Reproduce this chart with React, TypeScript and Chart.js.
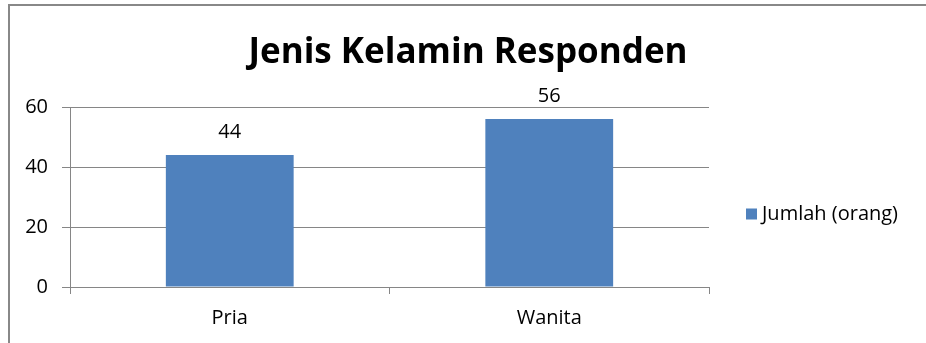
import React, { useEffect, useRef } from 'react';
import { Chart, registerables } from 'chart.js';

Chart.register(...registerables);

const categories = ['Pria', 'Wanita'];
const jumlah = [44, 56];
const seriesLabel = 'Jumlah (orang)';
const titleText = 'Jenis Kelamin Responden';
const yTicks = [0, 20, 40, 60];

const FONT = '"Open Sans", Lato, sans-serif';
const BLUE = '#4F81BD';
const GRID = '#868686';
const TEXT = '#000000';
const LABEL_SIZE = 20;

const dataLabels = {
  id: 'dataLabels',
  afterDatasetsDraw(chart: any) {
    const ctx = chart.ctx;
    ctx.save();
    ctx.font = `${LABEL_SIZE}px ${FONT}`;
    ctx.fillStyle = TEXT;
    ctx.textAlign = 'center';
    ctx.textBaseline = 'middle';
    chart.data.datasets.forEach((ds: any, di: number) => {
      const meta = chart.getDatasetMeta(di);
      meta.data.forEach((bar: any, i: number) => {
        ctx.fillText(String(ds.data[i]), bar.x, bar.y - 23);
      });
    });
    ctx.restore();
  },
};

const sideLegend = {
  id: 'sideLegend',
  afterDraw(chart: any) {
    const ctx = chart.ctx;
    const area = chart.chartArea;
    const ds = chart.data.datasets[0];
    const x = area.right + 37;
    const cy = (area.top + area.bottom) / 2 + 17;
    ctx.save();
    ctx.fillStyle = ds.backgroundColor;
    ctx.fillRect(x, cy - 5.5, 11, 11);
    ctx.font = `${LABEL_SIZE}px ${FONT}`;
    ctx.fillStyle = TEXT;
    ctx.textAlign = 'left';
    ctx.textBaseline = 'middle';
    ctx.fillText(ds.label, x + 16, cy);
    ctx.restore();
  },
};

export default function App() {
  const ref = useRef<HTMLCanvasElement>(null);

  useEffect(() => {
    if (!ref.current) return;
    const chart = new Chart(ref.current, {
      type: 'bar',
      data: {
        labels: categories,
        datasets: [
          {
            label: seriesLabel,
            data: jumlah,
            backgroundColor: BLUE,
            barPercentage: 0.4,
            categoryPercentage: 1.0,
          },
        ],
      },
      options: {
        responsive: false,
        animation: false,
        devicePixelRatio: 1,
        layout: { padding: { left: 10, right: 0, top: 0, bottom: 0 } },
        plugins: {
          legend: { display: false },
          tooltip: { enabled: false },
          title: {
            display: true,
            text: titleText,
            color: TEXT,
            font: { family: FONT, size: 35, weight: 'bold', lineHeight: 1.2 },
            padding: { top: 32, bottom: 33 },
          },
        },
        scales: {
          x: {
            type: 'category',
            offset: true,
            grid: {
              display: true,
              drawOnChartArea: false,
              offset: true,
              tickLength: 7,
              color: GRID,
            },
            border: { display: true, color: GRID },
            ticks: {
              color: TEXT,
              padding: 12,
              font: { family: FONT, size: LABEL_SIZE },
            },
            afterFit: (s: any) => {
              s.height = 56;
            },
          },
          y: {
            type: 'linear',
            min: 0,
            max: 60,
            grid: { color: GRID, tickLength: 8 },
            border: { display: true, color: GRID },
            ticks: {
              color: TEXT,
              padding: 14,
              font: { family: FONT, size: LABEL_SIZE },
            },
            afterBuildTicks: (s: any) => {
              s.ticks = yTicks.map((v) => ({ value: v }));
            },
            afterFit: (s: any) => {
              s.width = 60;
            },
          },
          legendSpace: {
            type: 'linear',
            position: 'right',
            display: true,
            grid: { display: false },
            border: { display: false },
            ticks: { display: false },
            afterFit: (s: any) => {
              s.width = 217;
            },
          },
        },
      },
      plugins: [dataLabels, sideLegend],
    } as any);
    return () => chart.destroy();
  }, []);

  return (
    <div>
      <div
        style={{
          position: 'fixed',
          left: 8,
          top: 4,
          width: 918,
          height: 339,
          boxSizing: 'border-box',
          borderLeft: '2px solid #888888',
          borderTop: '2px solid #888888',
          background: '#ffffff',
        }}
      />
      <canvas
        ref={ref}
        width={926}
        height={343}
        style={{ position: 'fixed', left: 0, top: 0, width: 926, height: 343 }}
      />
    </div>
  );
}
